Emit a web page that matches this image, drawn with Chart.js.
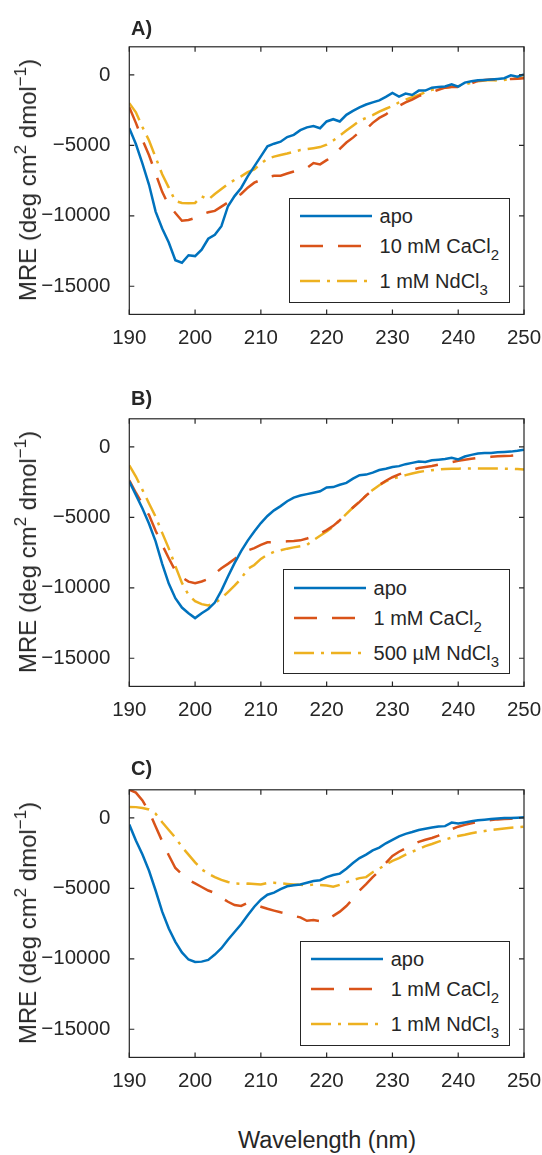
<!DOCTYPE html>
<html>
<head>
<meta charset="utf-8">
<script src="https://cdn.jsdelivr.net/npm/chart.js@4.4.0/dist/chart.umd.min.js"></script>
<style>
  body { margin: 0; width: 542px; height: 1155px; background: #fff; position: relative; overflow: hidden;
         font-family: "Liberation Sans", Arial, Helvetica, sans-serif; color: #262626; }
  .panel { position: absolute; left: 0; width: 542px; height: 372px; }
  .panel canvas { position: absolute; left: 0; top: 0; }
  .tag { position: absolute; left: 131px; font-weight: bold; font-size: 20px; line-height: 20px; }
  .ytitle { position: absolute; left: 28px; top: 180px; font-size: 24px; white-space: nowrap;
            transform: translate(-50%, -50%) rotate(-90deg); }
  .ytitle sup { font-size: 17px; vertical-align: 10px; line-height: 0; }
  .legend { position: absolute; right: 32px; top: 197.5px; height: 103px; background: #fff;
            border: 1px solid #262626; padding: 0 10px 0 10px; }
  .row { display: flex; align-items: center; height: 24px; font-size: 20px; line-height: 24px; white-space: nowrap; }
  .row svg { margin-right: 8px; }
  .row sub { font-size: 15px; vertical-align: -7px; line-height: 0; }
  .xtitle { position: absolute; left: 327px; top: 1140px; font-size: 23.5px; white-space: nowrap;
            transform: translate(-50%, -50%); }
</style>
</head>
<body>

<div class="panel" id="pA" style="top:0px">
  <canvas id="cA" width="542" height="372"></canvas>
  <div class="tag" style="top:18px">A)</div>
  <div class="ytitle">MRE (deg cm<sup>2</sup> dmol<sup>&minus;1</sup>)</div>
</div>
<div class="panel" id="pB" style="top:371.7px">
  <canvas id="cB" width="542" height="372"></canvas>
  <div class="tag" style="top:16px">B)</div>
  <div class="ytitle">MRE (deg cm<sup>2</sup> dmol<sup>&minus;1</sup>)</div>
</div>
<div class="panel" id="pC" style="top:743.2px">
  <canvas id="cC" width="542" height="372"></canvas>
  <div class="tag" style="top:15px">C)</div>
  <div class="ytitle">MRE (deg cm<sup>2</sup> dmol<sup>&minus;1</sup>)</div>
</div>
<div class="xtitle">Wavelength (nm)</div>

<script>
// wavelength (nm)
const wavelength = [190,191,192,193,194,195,196,197,198,199,200,201,202,203,204,205,206,207,208,209,
  210,211,212,213,214,215,216,217,218,219,220,221,222,223,224,225,226,227,228,229,
  230,231,232,233,234,235,236,237,238,239,240,241,242,243,244,245,246,247,248,249,250];

const xTicks = [190, 200, 210, 220, 230, 240, 250];
const yTicks = [-15000, -10000, -5000, 0];

// panel A
const aApo = [-3780,-4900,-6300,-7800,-9700,-10900,-11900,-13150,-13330,-12800,-12860,-12400,-11630,-11350,-10740,-9320,-8600,-8020,-7200,-6490,
  -5780,-5070,-4880,-4740,-4410,-4250,-3920,-3720,-3620,-3780,-3300,-3140,-3300,-2830,-2550,-2300,-2100,-1950,-1800,-1560,
  -1280,-1530,-1320,-1420,-1110,-1110,-900,-850,-820,-660,-830,-540,-450,-380,-350,-320,-280,-230,-30,-120,30];
const aCa = [-2290,-3400,-4600,-5700,-7000,-8300,-9250,-9800,-10350,-10300,-10150,-9900,-9750,-9650,-9350,-9050,-8750,-8450,-8000,-7650,
  -7450,-7250,-7150,-7150,-7000,-6850,-6720,-6600,-6250,-6350,-6050,-5780,-5250,-4800,-4450,-4050,-3850,-3400,-3050,-2800,
  -2450,-2200,-1950,-1750,-1500,-1350,-1220,-1050,-900,-850,-850,-780,-600,-420,-360,-330,-310,-310,-280,-260,-240];
const aNd = [-2000,-2650,-3700,-4650,-5850,-7050,-8000,-8950,-9090,-9100,-9090,-8610,-8850,-8450,-8100,-7750,-7450,-7200,-6900,-6700,
  -6300,-5950,-5800,-5680,-5580,-5450,-5330,-5270,-5200,-5120,-4950,-4650,-4300,-3950,-3600,-3250,-3050,-2850,-2600,-2400,
  -2200,-1950,-1750,-1580,-1420,-1220,-1060,-960,-900,-840,-800,-680,-540,-440,-390,-350,-400,-350,-300,-240,-170];

// panel B
const bApo = [-2450,-3400,-4370,-5450,-6700,-8300,-9700,-10740,-11400,-11800,-12150,-11800,-11500,-11050,-10200,-9200,-8250,-7400,-6650,-6000,
  -5400,-4900,-4500,-4200,-3850,-3600,-3450,-3350,-3250,-3150,-2880,-2850,-2680,-2550,-2250,-2000,-1960,-1820,-1640,-1540,
  -1420,-1360,-1220,-1130,-1040,-1060,-950,-900,-850,-760,-880,-680,-560,-470,-430,-420,-380,-350,-330,-270,-190];
const bCa = [-2360,-3250,-4050,-4840,-5950,-6950,-7900,-8800,-9250,-9560,-9680,-9550,-9370,-9000,-8610,-8300,-7950,-7650,-7350,-7180,
  -6950,-6770,-6750,-6730,-6700,-6680,-6630,-6500,-6350,-6150,-5900,-5600,-5200,-4750,-4300,-3900,-3450,-3070,-2700,-2400,
  -2150,-1950,-1770,-1620,-1500,-1420,-1350,-1250,-1180,-1080,-980,-900,-840,-780,-740,-700,-660,-640,-620,-580,-540];
const bNd = [-1300,-2100,-3050,-4010,-4950,-6100,-7200,-8450,-9650,-10500,-10950,-11160,-11250,-11090,-10750,-10300,-9850,-9350,-8650,-8380,
  -7950,-7650,-7450,-7330,-7220,-7130,-7050,-6960,-6610,-6300,-6000,-5650,-5200,-4750,-4300,-3870,-3450,-3050,-2720,-2450,
  -2250,-2130,-2000,-1880,-1780,-1700,-1650,-1600,-1570,-1550,-1540,-1530,-1520,-1520,-1520,-1520,-1530,-1540,-1550,-1570,-1600];

// panel C
const cApo = [-470,-1600,-2600,-3750,-5150,-6650,-7850,-8800,-9550,-10050,-10220,-10200,-10080,-9700,-9250,-8650,-8100,-7550,-6900,-6300,
  -5800,-5450,-5300,-5060,-4850,-4780,-4720,-4600,-4480,-4420,-4200,-4050,-3950,-3600,-3200,-2850,-2600,-2300,-2100,-1800,
  -1550,-1300,-1130,-1000,-850,-760,-680,-600,-580,-330,-400,-320,-240,-160,-120,-70,-30,0,0,20,50];
const cCa = [2000,1800,1250,450,-600,-1650,-2650,-3550,-4000,-4400,-4650,-4900,-5150,-5330,-5650,-5950,-6180,-6250,-6030,-6150,
  -6300,-6450,-6580,-6700,-6800,-6950,-7060,-7300,-7250,-7330,-7300,-6950,-6650,-6250,-5750,-5150,-4700,-4200,-3750,-3200,
  -2700,-2400,-2150,-1900,-1700,-1550,-1420,-1250,-1000,-800,-620,-490,-380,-280,-200,-150,-100,-80,-50,-20,0];
const cNd = [780,770,710,600,300,-300,-850,-1400,-2050,-2600,-3150,-3650,-3950,-4200,-4400,-4550,-4650,-4670,-4660,-4680,
  -4720,-4620,-4600,-4640,-4680,-4720,-4750,-4780,-4730,-4760,-4800,-4880,-4750,-4570,-4400,-4270,-4200,-3850,-3600,-3300,
  -3050,-2850,-2600,-2400,-2200,-2000,-1850,-1680,-1530,-1400,-1280,-1190,-1080,-1000,-930,-860,-800,-740,-700,-660,-620];

const namesA = ['apo', '10 mM CaCl<sub>2</sub>', '1 mM NdCl<sub>3</sub>'];
const namesB = ['apo', '1 mM CaCl<sub>2</sub>', '500 \u00b5M NdCl<sub>3</sub>'];
const namesC = ['apo', '1 mM CaCl<sub>2</sub>', '1 mM NdCl<sub>3</sub>'];

const styles = [
  { color: '#0072BD', dash: [] },
  { color: '#D95319', dash: [23, 15] },
  { color: '#EDB120', dash: [20, 7, 3, 7] }
];
const axisColor = '#262626';
const tickFont = { family: '"Liberation Sans", Arial, sans-serif', size: 20.5 };

// matlab style labels use a real minus sign
function tickText(v) {
  return v < 0 ? '\u2212' + Math.abs(v) : String(v);
}

// box round the plot and inward tick marks on all four sides
const boxTicks = {
  id: 'boxTicks',
  afterDatasetsDraw(chart) {
    const { ctx, chartArea: a, scales: { x, y } } = chart;
    ctx.save();
    ctx.strokeStyle = axisColor;
    ctx.lineWidth = 1.2;
    ctx.strokeRect(a.left, a.top, a.right - a.left, a.bottom - a.top);
    ctx.beginPath();
    x.ticks.forEach(t => {
      const px = x.getPixelForValue(t.value);
      ctx.moveTo(px, a.bottom); ctx.lineTo(px, a.bottom - 5);
      ctx.moveTo(px, a.top); ctx.lineTo(px, a.top + 5);
    });
    y.ticks.forEach(t => {
      const py = y.getPixelForValue(t.value);
      ctx.moveTo(a.left, py); ctx.lineTo(a.left + 5, py);
      ctx.moveTo(a.right, py); ctx.lineTo(a.right - 5, py);
    });
    ctx.stroke();
    ctx.restore();
  }
};

function makePanel(panelId, canvasId, series, names) {
  const datasets = series.map((vals, i) => ({
    label: names[i],
    data: wavelength.map((w, k) => ({ x: w, y: vals[k] })),
    borderColor: styles[i].color,
    borderDash: styles[i].dash,
    borderWidth: 2.5,
    pointRadius: 0,
    tension: 0,
    fill: false
  }));

  new Chart(document.getElementById(canvasId), {
    type: 'line',
    data: { datasets: datasets },
    options: {
      responsive: false,
      animation: false,
      layout: { padding: { top: 46.8, right: 18, left: 0, bottom: 0 } },
      plugins: { legend: { display: false }, tooltip: { enabled: false } },
      scales: {
        x: {
          type: 'linear', min: 190, max: 250,
          afterBuildTicks: s => { s.ticks = xTicks.map(v => ({ value: v })); },
          afterFit: s => { s.height = 57.6; s.paddingLeft = 0; s.paddingRight = 0; },
          ticks: { font: tickFont, color: axisColor, padding: 4, maxRotation: 0, callback: tickText },
          grid: { display: false },
          border: { display: false }
        },
        y: {
          min: -17000, max: 2000,
          afterBuildTicks: s => { s.ticks = yTicks.map(v => ({ value: v })); },
          afterFit: s => { s.width = 129.3; },
          ticks: { font: tickFont, color: axisColor, padding: 11, callback: tickText },
          grid: { display: false },
          border: { display: false }
        }
      }
    },
    plugins: [boxTicks]
  });

  // legend box, samples taken from the dataset styles
  const leg = document.createElement('div');
  leg.className = 'legend';
  const gaps = [5.5, 6, 11];
  datasets.forEach((d, i) => {
    const row = document.createElement('div');
    row.className = 'row';
    row.style.marginTop = gaps[i] + 'px';
    const dash = d.borderDash.length ? d.borderDash.join(' ') : 'none';
    row.innerHTML = '<svg width="72" height="24"><line x1="0" y1="12" x2="72" y2="12" stroke="' + d.borderColor +
      '" stroke-width="2.5" stroke-dasharray="' + dash + '"/></svg><span>' + d.label + '</span>';
    leg.appendChild(row);
  });
  document.getElementById(panelId).appendChild(leg);
}

makePanel('pA', 'cA', [aApo, aCa, aNd], namesA);
makePanel('pB', 'cB', [bApo, bCa, bNd], namesB);
makePanel('pC', 'cC', [cApo, cCa, cNd], namesC);
</script>
</body>
</html>
